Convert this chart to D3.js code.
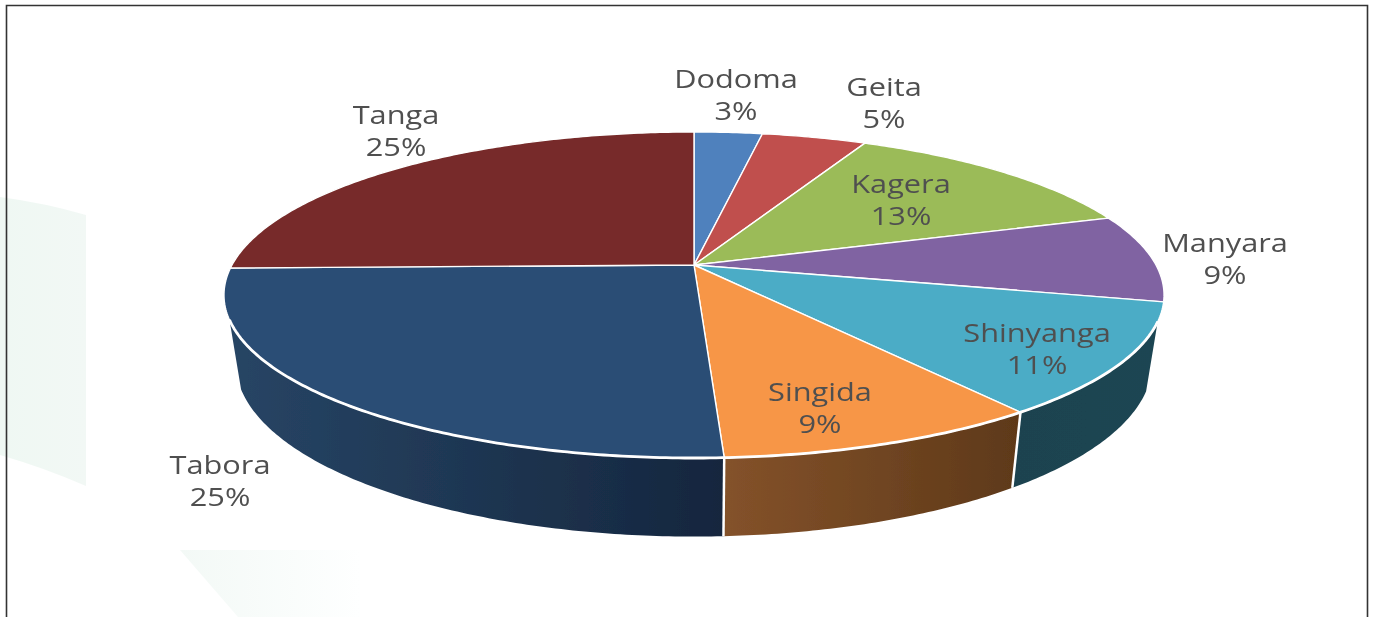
<!DOCTYPE html>
<html>
<head>
<meta charset="utf-8">
<script src="https://cdn.jsdelivr.net/npm/d3@7"></script>
<style>
  html, body { margin: 0; padding: 0; background: #fff; overflow: hidden; }
</style>
</head>
<body>
<div id="container"></div>
<script>
/* DATA */
const regions = ["Dodoma", "Geita", "Kagera", "Manyara", "Shinyanga", "Singida", "Tabora", "Tanga"];
// slice shares
const shares = [2.8, 4.3, 12.8, 8.7, 11.1, 9.45, 25.55, 25.3];
// percentages printed on the labels
const percentLabels = ["3%", "5%", "13%", "9%", "11%", "9%", "25%", "25%"];

/* CONSTANTS AND GLOBALS */
const width = 1373;
const height = 617;
const topColors = ["#4f81bd", "#c0504d", "#9bbb59", "#8064a2", "#4bacc6", "#f79646", "#2c4d75", "#772c2a"];
const labelPos = [[736, 79], [884, 87], [901, 184], [1225, 243], [1037, 333], [820, 392], [220, 465], [396, 115]];
const labelStretch = 1.23; // the source image is stretched sideways

// perspective set up of the pie
const cx = 694, cy = 265, R = 462, B = 157.5, k = 0.184;
const wallScaleX = 0.975, wallScaleY = 1.065, wallDrop = 66;
// part of the rim where the wall can be seen (radians, clockwise from top)
const wallStart = 109.7 * Math.PI / 180;
const wallEnd = 250.9 * Math.PI / 180;

const project = (a, r = 1) => {
  const u = r * Math.sin(a), v = r * Math.cos(a);
  const w = 1 + k * v;
  return [cx + R * u / w, cy - B * v / w];
};
const lower = ([x, y]) => [cx + wallScaleX * (x - cx), cy + wallScaleY * (y - cy) + wallDrop];

const rim = (a0, a1) => {
  const n = Math.max(2, Math.ceil((a1 - a0) * 90));
  return d3.range(n + 1).map(i => project(a0 + (a1 - a0) * i / n));
};
const line = d3.line();

const svg = d3.select("#container")
  .append("svg")
  .attr("width", width)
  .attr("height", height)
  .style("display", "block")
  .style("font-family", "'Open Sans', sans-serif");

const defs = svg.append("defs");
defs.append("filter").attr("id", "soft")
  .append("feGaussianBlur").attr("stdDeviation", 0.55);
defs.append("filter").attr("id", "soft-pie")
  .attr("filterUnits", "userSpaceOnUse")
  .attr("x", 0).attr("y", 0).attr("width", width).attr("height", height)
  .append("feGaussianBlur").attr("stdDeviation", 0.4);

const addGradient = (id, x1, x2, c1, c2) => {
  const g = defs.append("linearGradient").attr("id", id)
    .attr("gradientUnits", "userSpaceOnUse")
    .attr("x1", x1).attr("x2", x2).attr("y1", 0).attr("y2", 0);
  g.append("stop").attr("offset", 0).attr("stop-color", c1);
  g.append("stop").attr("offset", 1).attr("stop-color", c2);
};
addGradient("wall-Tabora", 230, 723, "#274565", "#15263e");
addGradient("wall-Singida", 723, 1019, "#84522a", "#5e3919");
addGradient("wall-Shinyanga", 1013, 1162, "#1c4350", "#1e4552");
addGradient("band", 0, 86, "#eff8f3", "#f2f8f5");
addGradient("corner", 180, 360, "#f3f9f6", "#feffff");

// background decoration
svg.append("path")
  .attr("fill", "url(#band)")
  .attr("d", "M0,197 Q45,203 86,215 L86,486 Q45,468 0,455 Z");
svg.append("path")
  .attr("fill", "url(#corner)")
  .attr("d", "M180,550 L360,550 L360,617 L238,617 Z");

// frame
svg.append("path")
  .attr("fill", "none")
  .attr("stroke", "#333")
  .attr("stroke-width", 1.6)
  .attr("d", `M6.5,${height} L6.5,5.5 L1367.5,5.5 L1367.5,${height}`);

const pie = d3.pie().sort(null).value(d => d)(shares);

const chart = svg.append("g").attr("filter", "url(#soft-pie)");

// side walls
chart.selectAll("path.wall")
  .data(pie.filter(d => d.endAngle > wallStart && d.startAngle < wallEnd))
  .join("path")
  .attr("class", "wall")
  .attr("fill", d => `url(#wall-${regions[d.index]})`)
  .attr("d", d => {
    const top = rim(Math.max(d.startAngle, wallStart), Math.min(d.endAngle, wallEnd));
    return line(top.concat(top.map(lower).reverse())) + "Z";
  });

// white divider between the walls
chart.selectAll("path.wall-edge")
  .data(pie.filter(d => d.startAngle > wallStart && d.startAngle < wallEnd))
  .join("path")
  .attr("class", "wall-edge")
  .attr("fill", "none")
  .attr("stroke", "#fff")
  .attr("stroke-width", 2.5)
  .attr("d", d => {
    const p = project(d.startAngle);
    return line([p, lower(p)]);
  });

// top slices
chart.selectAll("path.slice")
  .data(pie)
  .join("path")
  .attr("class", "slice")
  .attr("fill", d => topColors[d.index])
  .attr("stroke", "#fff")
  .attr("stroke-width", 1.4)
  .attr("stroke-linejoin", "round")
  .attr("d", d => line([[cx, cy]].concat(rim(d.startAngle, d.endAngle))) + "Z");

// white edge where the top meets the wall
chart.append("path")
  .attr("fill", "none")
  .attr("stroke", "#fff")
  .attr("stroke-width", 2.8)
  .attr("d", line(rim(wallStart, wallEnd)));

// labels
const labels = svg.append("g")
  .attr("filter", "url(#soft)")
  .attr("text-anchor", "middle")
  .attr("font-size", 25)
  .attr("fill", "#505050");

labels.selectAll("text.region")
  .data(regions)
  .join("text")
  .attr("class", "region")
  .attr("transform", (d, i) => `translate(${labelPos[i][0]},${labelPos[i][1]}) scale(${labelStretch},1)`)
  .attr("dy", "0.35em")
  .text(d => d);

labels.selectAll("text.percent")
  .data(percentLabels)
  .join("text")
  .attr("class", "percent")
  .attr("transform", (d, i) => `translate(${labelPos[i][0]},${labelPos[i][1] + 32}) scale(${labelStretch},1)`)
  .attr("dy", "0.35em")
  .text(d => d);
</script>
</body>
</html>
